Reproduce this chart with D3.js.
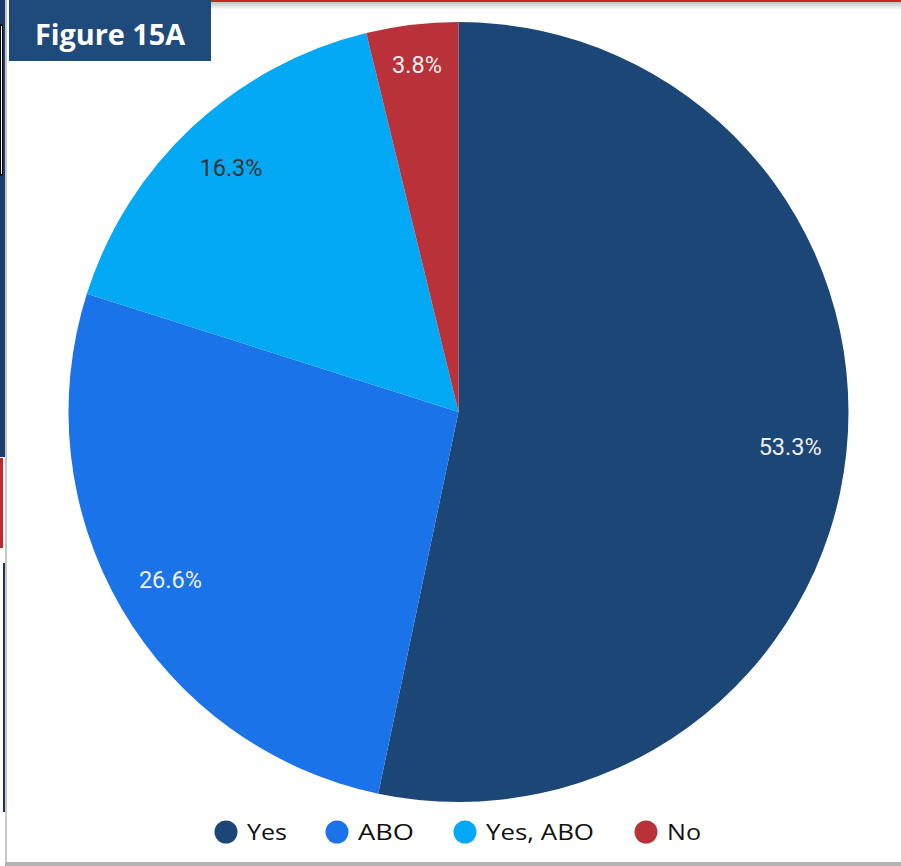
<!DOCTYPE html>
<html><head><meta charset="utf-8">
<script src="https://cdn.jsdelivr.net/npm/d3@7"></script>
<style>html,body{margin:0;padding:0;background:#fff;}svg{display:block;}</style>
</head><body>
<svg id="chart" width="901" height="866"></svg>
<script>
const categories = ["Yes", "ABO", "Yes, ABO", "No"];
const values = [53.3, 26.6, 16.3, 3.8];
const colors = ["#1c4675", "#1a73e8", "#03a9f4", "#b93139"];
const labelColors = ["#eeeeee", "#eeeeee", "#333333", "#eeeeee"];
const title = "Figure 15A";

const svg = d3.select("#chart");
const W = 901, H = 866;

// page framing
const defs = svg.append("defs");
const g1 = defs.append("linearGradient").attr("id","topShadow").attr("x1",0).attr("y1",0).attr("x2",0).attr("y2",1);
g1.append("stop").attr("offset","0%").attr("stop-color","#c4c4c4");
g1.append("stop").attr("offset","100%").attr("stop-color","#ffffff");
svg.append("rect").attr("x",0).attr("y",0).attr("width",W).attr("height",H).attr("fill","#ffffff");
svg.append("rect").attr("x",200).attr("y",2).attr("width",W-200).attr("height",8).attr("fill","url(#topShadow)");
svg.append("rect").attr("x",200).attr("y",0).attr("width",W-200).attr("height",2).attr("fill","#c62828");
// left strips
svg.append("rect").attr("x",0).attr("y",0).attr("width",5).attr("height",457).attr("fill","#1a3f6f");
svg.append("rect").attr("x",0.5).attr("y",25).attr("width",2).attr("height",150).attr("fill","#fff").attr("stroke","#000").attr("stroke-width",1);
svg.append("rect").attr("x",0).attr("y",458).attr("width",3).attr("height",90).attr("fill","#c0272d");
svg.append("rect").attr("x",3).attr("y",563).attr("width",2).attr("height",249).attr("fill","#15386a");
svg.append("rect").attr("x",5).attr("y",0).attr("width",2).attr("height",864).attr("fill","#c8c8c8");
svg.append("rect").attr("x",5).attr("y",862).attr("width",W-5).attr("height",4).attr("fill","#b4b4b4");

// pie
const cx = 458.5, cy = 412, R = 390;
const pie = d3.pie().sort(null).value(d => d.v);
const data = categories.map((c,i)=>({c, v: values[i], i}));
const arcs = pie(data);
const arc = d3.arc().innerRadius(0).outerRadius(R);
const gp = svg.append("g").attr("transform",`translate(${cx},${cy})`);
gp.selectAll("path").data(arcs).join("path")
  .attr("d", arc).attr("fill", d => colors[d.data.i]);
gp.selectAll("text").data(arcs).join("text")
  .attr("transform", d => {
    const a = (d.startAngle + d.endAngle)/2;
    const rr = R * (d.data.v < 5 ? 0.895 : 0.855);
    return `translate(${Math.sin(a)*rr},${-Math.cos(a)*rr})`;
  })
  .attr("text-anchor","middle").attr("dominant-baseline","central")
  .attr("font-family","Roboto, sans-serif").attr("font-size",23.5)
  .attr("fill", d => labelColors[d.data.i])
  .text(d => d.data.v.toFixed(1) + "%");

// title box
svg.append("rect").attr("x",9).attr("y",0).attr("width",202).attr("height",61).attr("fill","#1f4a7c");
svg.append("text").attr("x",35).attr("y",45).attr("font-family","'Open Sans', sans-serif")
  .attr("font-weight",700).attr("font-size",29).attr("fill","#ffffff")
  .attr("textLength",150).attr("lengthAdjust","spacingAndGlyphs").text(title);

// legend
const legX = [226, 337, 465, 646];
const legW = [40, 56, 108, 34];
const lg = svg.append("g").selectAll("g").data(categories).join("g")
  .attr("transform",(d,i)=>`translate(${legX[i]},832)`);
lg.append("circle").attr("r",11.5).attr("fill",(d,i)=>colors[i]);
lg.append("text").attr("x",21).attr("dominant-baseline","central")
  .attr("font-family","'Open Sans', sans-serif").attr("font-size",21).attr("fill","#111")
  .attr("textLength",(d,i)=>legW[i]).attr("lengthAdjust","spacingAndGlyphs")
  .text(d=>d);
</script>
</body></html>
